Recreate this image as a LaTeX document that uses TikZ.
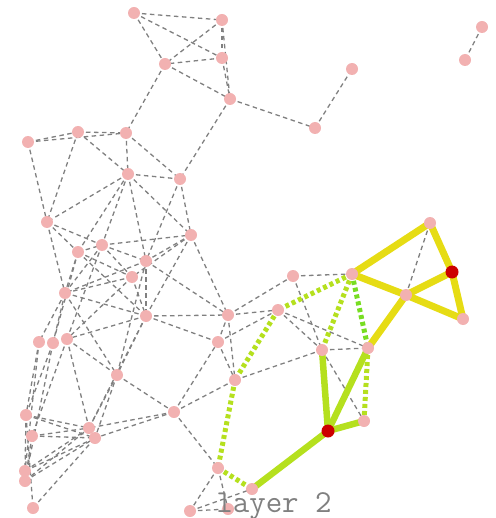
\documentclass[tikz,border=0pt]{standalone}
\usepackage{fontspec}
\usetikzlibrary{backgrounds}
\definecolor{pinkn}{HTML}{F2B1B1}
\definecolor{redn}{HTML}{CC0000}
\definecolor{yel}{HTML}{E6DC14}
\definecolor{lime}{HTML}{B5E01E}
\definecolor{grn}{HTML}{77DD22}
\definecolor{gedge}{HTML}{808080}
\tikzset{
  pn/.style={circle,fill=pinkn,minimum size=12pt,inner sep=0pt},
  rn/.style={circle,fill=redn,minimum size=13pt,inner sep=0pt},
  ge/.style={draw=gedge,line width=1.3pt,dash pattern=on 4.5pt off 3.5pt},
  ye/.style={draw=yel,line width=7pt},
  le/.style={draw=lime,line width=6.5pt},
  ld/.style={draw=lime,line width=5pt,dash pattern=on 4pt off 3pt},
  gd/.style={draw=grn,line width=5pt,dash pattern=on 4pt off 3pt},
}
\begin{document}
\begin{tikzpicture}[x=1pt,y=-1pt]
\useasboundingbox (0,0) rectangle (495,518);
% nodes
\node[pn] (a1) at (134,13) {};
\node[pn] (a2) at (222,20) {};
\node[pn] (a3) at (222,58) {};
\node[pn] (a4) at (165,64) {};
\node[pn] (a5) at (230,99) {};
\node[pn] (b1) at (352,69) {};
\node[pn] (b2) at (315,128) {};
\node[pn] (c1) at (482,27) {};
\node[pn] (c2) at (465,60) {};
\node[pn] (d1) at (28,142) {};
\node[pn] (d2) at (78,132) {};
\node[pn] (d3) at (126,133) {};
\node[pn] (d4) at (128,174) {};
\node[pn] (d5) at (180,179) {};
\node[pn] (d6) at (47,222) {};
\node[pn] (d7) at (78,252) {};
\node[pn] (d8) at (102,245) {};
\node[pn] (d9) at (191,235) {};
\node[pn] (d10) at (146,261) {};
\node[pn] (d11) at (132,277) {};
\node[pn] (d12) at (65,293) {};
\node[pn] (d13) at (146,316) {};
\node[pn] (d14) at (39,342) {};
\node[pn] (d15) at (53,343) {};
\node[pn] (d16) at (67,339) {};
\node[pn] (d17) at (117,375) {};
\node[pn] (d18) at (228,315) {};
\node[pn] (d19) at (218,342) {};
\node[pn] (d20) at (235,380) {};
\node[pn] (d21) at (174,412) {};
\node[pn] (d22) at (26,415) {};
\node[pn] (d23) at (32,436) {};
\node[pn] (d24) at (89,428) {};
\node[pn] (d25) at (95,438) {};
\node[pn] (d26) at (25,471) {};
\node[pn] (d27) at (25,481) {};
\node[pn] (d28) at (33,508) {};
\node[pn] (d29) at (218,468) {};
\node[pn] (d30) at (190,511) {};
\node[pn] (d31) at (228,509) {};
\node[pn] (d32) at (252,489) {};
\node[pn] (e1) at (293,276) {};
\node[pn] (e2) at (352,274) {};
\node[pn] (e3) at (278,310) {};
\node[pn] (f1) at (322,350) {};
\node[pn] (f2) at (368,348) {};
\node[pn] (f3) at (406,295) {};
\node[rn] (f4) at (452,272) {};
\node[pn] (f5) at (463,319) {};
\node[pn] (f6) at (430,223) {};
\node[rn] (g1) at (328,431) {};
\node[pn] (g2) at (364,421) {};
\node[anchor=base,text=gedge,font=\fontsize{32}{32}\selectfont\ttfamily] (lbl) at (274,512) {layer 2};
\begin{scope}[on background layer]
\foreach \u/\v in {a1/a2,a1/a3,a1/a4,a2/a4,a2/a3,a2/a5,a3/a4,a3/a5,a4/a5,a4/d3,a5/d5,a5/b2,b2/b1,c1/c2,
 d1/d2,d1/d3,d2/d3,d1/d6,d2/d6,d2/d4,d3/d4,d3/d5,d4/d5,d4/d6,d4/d7,d4/d8,d4/d10,d4/d9,d5/d9,d5/d10,
 d6/d7,d6/d8,d6/d12,d7/d8,d7/d11,d7/d13,d7/d12,d7/d15,
 d8/d9,d8/d10,d8/d11,d8/d12,d8/d16,d9/d10,d9/d11,d9/d13,d9/d18,
 d10/d13,d10/d18,d10/d17,d10/d12,d11/d12,d11/d13,d11/d16,
 d12/d13,d12/d14,d12/d15,d12/d17,d13/d16,d13/d17,d13/d18,d13/d19,d13/d24,
 d14/d22,d14/d26,d15/d22,d15/d27,d16/d24,d16/d17,d16/d23,
 d17/d21,d17/d24,d17/d25,
 d22/d24,d22/d25,d22/d28,d23/d24,d23/d25,d26/d24,d26/d25,d27/d24,d27/d25,d28/d25,d22/d26,d23/d27,
 d21/d19,d21/d20,d21/d29,d21/d24,d21/d25,
 d29/d30,d29/d31,d30/d31,d30/d32,
 d18/d19,d18/d20,d19/d20,d18/e1,d18/e3,d19/e3,d20/f1,
 e1/e2,e1/f1,e3/f1,e3/f2,f1/f2,f1/g2,f6/f3}
 {\draw[ge] (\u.center) -- (\v.center);}
\foreach \u/\v in {e2/e3,e3/d20,d20/d29,d29/d32,e2/f1,f2/g2}
 {\draw[ld] (\u.center) -- (\v.center);}
\draw[gd] (e2.center) -- (f2.center);
\foreach \u/\v in {d32/g1,g1/f1,g1/f2,g1/g2}
 {\draw[le,line cap=round] (\u.center) -- (\v.center);}
\foreach \u/\v in {e2/f6,e2/f3,f6/f4,f4/f5,f3/f4,f3/f5,f3/f2}
 {\draw[ye,line cap=round] (\u.center) -- (\v.center);}
\end{scope}
\end{tikzpicture}
\end{document}
